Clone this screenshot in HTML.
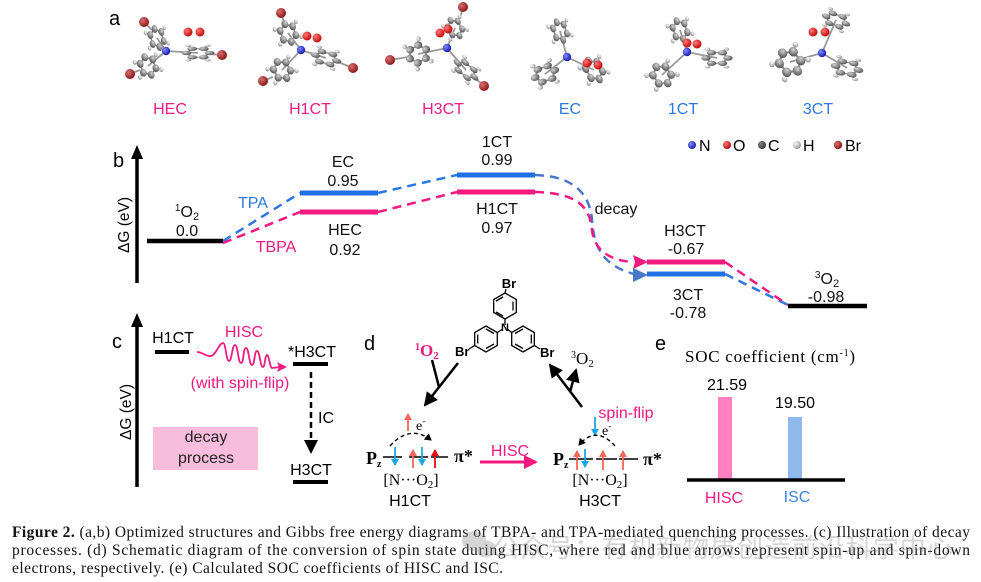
<!DOCTYPE html>
<html><head><meta charset="utf-8"><style>
html,body{margin:0;padding:0;background:#fff;}
svg{display:block;}
.s{font-family:"Liberation Sans",Arial,sans-serif;}
.r{font-family:"Liberation Serif","Times New Roman",serif;}
</style></head><body>
<svg width="981" height="582" viewBox="0 0 981 582" xmlns="http://www.w3.org/2000/svg">
<defs>
<radialGradient id="gC" cx="0.35" cy="0.35" r="0.7"><stop offset="0" stop-color="#d4d4d4"/><stop offset="1" stop-color="#505050"/></radialGradient>
<radialGradient id="gH" cx="0.35" cy="0.35" r="0.7"><stop offset="0" stop-color="#ffffff"/><stop offset="1" stop-color="#8e8e8e"/></radialGradient>
<radialGradient id="gN" cx="0.35" cy="0.35" r="0.7"><stop offset="0" stop-color="#7f8cff"/><stop offset="1" stop-color="#1515a5"/></radialGradient>
<radialGradient id="gO" cx="0.35" cy="0.35" r="0.7"><stop offset="0" stop-color="#ff7a7a"/><stop offset="1" stop-color="#c00000"/></radialGradient>
<radialGradient id="gBr" cx="0.35" cy="0.35" r="0.7"><stop offset="0" stop-color="#d87070"/><stop offset="1" stop-color="#861414"/></radialGradient>
<radialGradient id="gDk" cx="0.35" cy="0.35" r="0.7"><stop offset="0" stop-color="#888"/><stop offset="1" stop-color="#333"/></radialGradient>
<g id="rg0">
 <g stroke="#a8a8a8" stroke-width="1.5">
  <line x1="5" y1="8.66" x2="8.5" y2="14.7"/><line x1="-5" y1="8.66" x2="-8.5" y2="14.7"/>
  <line x1="5" y1="-8.66" x2="8.5" y2="-14.7"/><line x1="-5" y1="-8.66" x2="-8.5" y2="-14.7"/>
 </g>
 <polygon points="10,0 5,8.66 -5,8.66 -10,0 -5,-8.66 5,-8.66" fill="none" stroke="#8a8a8a" stroke-width="2"/>
 <circle cx="8.5" cy="14.7" r="2.6" fill="url(#gH)"/><circle cx="-8.5" cy="14.7" r="2.6" fill="url(#gH)"/>
 <circle cx="8.5" cy="-14.7" r="2.6" fill="url(#gH)"/><circle cx="-8.5" cy="-14.7" r="2.6" fill="url(#gH)"/>
 <circle cx="10" cy="0" r="4.3" fill="url(#gC)"/><circle cx="5" cy="8.66" r="4.3" fill="url(#gC)"/>
 <circle cx="-5" cy="8.66" r="4.3" fill="url(#gC)"/><circle cx="-10" cy="0" r="4.3" fill="url(#gC)"/>
 <circle cx="-5" cy="-8.66" r="4.3" fill="url(#gC)"/><circle cx="5" cy="-8.66" r="4.3" fill="url(#gC)"/>
</g>
<g id="rg"><use href="#rg0" transform="scale(1.1)"/></g>
<marker id="mBk" markerUnits="userSpaceOnUse" markerWidth="14" markerHeight="14" refX="12" refY="7" orient="auto"><path d="M0,0 L14,7 L0,14 z" fill="#000"/></marker>
<marker id="mPk" markerUnits="userSpaceOnUse" markerWidth="14" markerHeight="14" refX="12" refY="7" orient="auto"><path d="M0,0 L14,7 L0,14 z" fill="#f0197f"/></marker>
<marker id="mRs" markerUnits="userSpaceOnUse" markerWidth="7" markerHeight="8" refX="6" refY="4" orient="auto"><path d="M0,0 L7,4 L0,8 z" fill="#f4655a"/></marker>
<marker id="mDr" markerUnits="userSpaceOnUse" markerWidth="7" markerHeight="8" refX="6" refY="4" orient="auto"><path d="M0,0 L7,4 L0,8 z" fill="#e01010"/></marker>
<marker id="mBs" markerUnits="userSpaceOnUse" markerWidth="7" markerHeight="8" refX="6" refY="4" orient="auto"><path d="M0,0 L7,4 L0,8 z" fill="#1ea6e8"/></marker>
<marker id="mKs" markerUnits="userSpaceOnUse" markerWidth="7" markerHeight="8" refX="6" refY="4" orient="auto"><path d="M0,0 L7,4 L0,8 z" fill="#000"/></marker>
</defs>
<rect width="981" height="582" fill="#fff"/>

<!-- ===== Panel a ===== -->
<text x="109" y="25" class="s" font-size="20">a</text>
<g stroke="#999" stroke-width="1.8">
 <line x1="166" y1="51" x2="157" y2="38"/><line x1="166" y1="51" x2="148" y2="66"/><line x1="166" y1="51" x2="198" y2="53"/>
 <line x1="144" y1="22" x2="152" y2="30"/><line x1="130" y1="74" x2="140" y2="70"/><line x1="222" y1="55" x2="209" y2="54"/>
 <line x1="301" y1="50" x2="288" y2="33"/><line x1="301" y1="50" x2="282" y2="70"/><line x1="301" y1="50" x2="326" y2="58"/>
 <line x1="281" y1="13" x2="284" y2="22"/><line x1="263" y1="81" x2="273" y2="77"/><line x1="353" y1="68" x2="338" y2="62"/>
 <line x1="447" y1="48" x2="418" y2="54"/><line x1="447" y1="48" x2="455" y2="28"/><line x1="447" y1="48" x2="466" y2="70"/>
 <line x1="463" y1="7" x2="460" y2="18"/><line x1="390" y1="60" x2="408" y2="57"/><line x1="484" y1="86" x2="475" y2="78"/>
 <line x1="567" y1="57" x2="560" y2="31"/><line x1="567" y1="57" x2="545" y2="74"/><line x1="567" y1="57" x2="594" y2="70"/>
 <line x1="687" y1="52" x2="680" y2="30"/><line x1="687" y1="52" x2="662" y2="75"/><line x1="687" y1="52" x2="717" y2="58"/>
 <line x1="822" y1="53" x2="836" y2="20"/><line x1="822" y1="53" x2="790" y2="62"/><line x1="822" y1="53" x2="847" y2="68"/>
</g>
<use href="#rg" transform="translate(157,38) rotate(75) scale(0.85,0.6)"/>
<use href="#rg" transform="translate(148,66) rotate(70) scale(0.85,0.7)"/>
<use href="#rg" transform="translate(198,53) rotate(0) scale(1.05,0.45)"/>
<use href="#rg" transform="translate(288,33) rotate(70) scale(0.85,0.7)"/>
<use href="#rg" transform="translate(282,70) rotate(60) scale(0.85,0.75)"/>
<use href="#rg" transform="translate(326,58) rotate(15) scale(1,0.55)"/>
<use href="#rg" transform="translate(418,54) rotate(-30) scale(0.85,0.8)"/>
<use href="#rg" transform="translate(455,28) rotate(60) scale(0.8,0.6)"/>
<use href="#rg" transform="translate(466,70) rotate(40) scale(1,0.55)"/>
<use href="#rg" transform="translate(560,31) rotate(70) scale(0.85,0.6)"/>
<use href="#rg" transform="translate(545,74) rotate(-20) scale(0.95,0.7)"/>
<use href="#rg" transform="translate(594,70) rotate(60) scale(0.95,0.7)"/>
<use href="#rg" transform="translate(680,30) rotate(70) scale(0.85,0.65)"/>
<use href="#rg" transform="translate(662,75) rotate(55) scale(0.9,0.8)"/>
<use href="#rg" transform="translate(717,58) rotate(0) scale(1,0.55)"/>
<use href="#rg" transform="translate(836,20) rotate(20) scale(0.95,0.55)"/>
<use href="#rg" transform="translate(790,62) rotate(50) scale(1.05,0.95)"/>
<use href="#rg" transform="translate(847,68) rotate(10) scale(1.05,0.6)"/>
<circle cx="166" cy="51" r="4.2" fill="url(#gN)"/><circle cx="301" cy="50" r="4.2" fill="url(#gN)"/>
<circle cx="447" cy="48" r="4.2" fill="url(#gN)"/><circle cx="567" cy="57" r="4.2" fill="url(#gN)"/>
<circle cx="687" cy="52" r="4.2" fill="url(#gN)"/><circle cx="822" cy="53" r="4.2" fill="url(#gN)"/>
<circle cx="188" cy="32" r="4.5" fill="url(#gO)"/><circle cx="200" cy="32" r="4.5" fill="url(#gO)"/>
<circle cx="307" cy="36" r="4.5" fill="url(#gO)"/><circle cx="317" cy="38" r="4.5" fill="url(#gO)"/>
<circle cx="440" cy="33" r="4.5" fill="url(#gO)"/><circle cx="448" cy="29" r="4.5" fill="url(#gO)"/>
<circle cx="587" cy="63" r="4.5" fill="url(#gO)"/><circle cx="598" cy="65" r="4.5" fill="url(#gO)"/>
<circle cx="687" cy="43" r="4.5" fill="url(#gO)"/><circle cx="697" cy="44" r="4.5" fill="url(#gO)"/>
<circle cx="813" cy="32" r="4.5" fill="url(#gO)"/><circle cx="825" cy="32" r="4.5" fill="url(#gO)"/>
<circle cx="144" cy="22" r="5" fill="url(#gBr)"/><circle cx="130" cy="74" r="5" fill="url(#gBr)"/><circle cx="222" cy="55" r="5" fill="url(#gBr)"/>
<circle cx="281" cy="13" r="5" fill="url(#gBr)"/><circle cx="263" cy="81" r="5" fill="url(#gBr)"/><circle cx="353" cy="68" r="5" fill="url(#gBr)"/>
<circle cx="463" cy="7" r="5" fill="url(#gBr)"/><circle cx="390" cy="60" r="5" fill="url(#gBr)"/><circle cx="484" cy="86" r="5" fill="url(#gBr)"/>

<g class="s" font-size="16" text-anchor="middle">
 <text x="170" y="114" fill="#ec1c84">HEC</text>
 <text x="310" y="114" fill="#ec1c84">H1CT</text>
 <text x="443" y="114" fill="#ec1c84">H3CT</text>
 <text x="570" y="114" fill="#2a78e2">EC</text>
 <text x="683" y="114" fill="#2a78e2">1CT</text>
 <text x="818" y="114" fill="#2a78e2">3CT</text>
</g>

<!-- ===== Panel b ===== -->
<text x="113" y="167" class="s" font-size="20">b</text>
<line x1="137" y1="283" x2="137" y2="156" stroke="#000" stroke-width="3.5"/>
<polygon points="137,145 131,159 143,159" fill="#000"/>
<text transform="translate(129,225) rotate(-90)" class="s" font-size="15.5" text-anchor="middle">ΔG (eV)</text>

<circle cx="692" cy="145" r="4" fill="url(#gN)"/><text x="699" y="151" class="s" font-size="16">N</text>
<circle cx="727" cy="145" r="4" fill="url(#gO)"/><text x="733" y="151" class="s" font-size="16">O</text>
<circle cx="762" cy="145" r="4" fill="url(#gDk)"/><text x="768" y="151" class="s" font-size="16">C</text>
<circle cx="797" cy="145" r="4" fill="url(#gH)"/><text x="803" y="151" class="s" font-size="16">H</text>
<circle cx="838" cy="145" r="4.2" fill="url(#gBr)"/><text x="845" y="151" class="s" font-size="16">Br</text>

<g fill="none" stroke-width="2.5" stroke-dasharray="9 6">
 <path d="M223,241 L300,193" stroke="#2a78e2"/>
 <path d="M223,243 L300,212" stroke="#f0197f"/>
 <path d="M378,193 L457,175" stroke="#2a78e2"/>
 <path d="M378,212 L457,192" stroke="#f0197f"/>
 <path d="M535,175 C575,176 590,195 592,220 C594,250 605,266 634,274" stroke="#4a78c8"/>
 <path d="M535,192 C575,193 590,205 592,230 C594,250 610,261 634,262" stroke="#f0197f"/>
 <path d="M725,274 L788,305" stroke="#2a78e2"/>
 <path d="M725,262 L788,305" stroke="#f0197f"/>
</g>
<polygon points="648,262 633,255 635,262 633,269" fill="#f0197f"/>
<polygon points="648,275 633,268 633,282" fill="#4a78c8"/>

<line x1="147" y1="241" x2="223" y2="241" stroke="#000" stroke-width="4.5"/>
<line x1="300" y1="193" x2="378" y2="193" stroke="#1f6fe5" stroke-width="5"/>
<line x1="300" y1="212" x2="378" y2="212" stroke="#f2197f" stroke-width="5"/>
<line x1="457" y1="175" x2="535" y2="175" stroke="#1f6fe5" stroke-width="5"/>
<line x1="457" y1="192" x2="535" y2="192" stroke="#f2197f" stroke-width="5"/>
<line x1="647" y1="262" x2="725" y2="262" stroke="#f2197f" stroke-width="5"/>
<line x1="647" y1="274" x2="725" y2="274" stroke="#1f6fe5" stroke-width="5"/>
<line x1="788" y1="306" x2="867" y2="306" stroke="#000" stroke-width="4.5"/>

<g class="s" font-size="16" text-anchor="middle" fill="#111">
 <text x="187" y="217"><tspan font-size="10" dy="-6">1</tspan><tspan dy="6">O</tspan><tspan font-size="11" dy="3">2</tspan></text>
 <text x="187" y="236">0.0</text>
 <text x="343" y="167">EC</text>
 <text x="343" y="186">0.95</text>
 <text x="345" y="235">HEC</text>
 <text x="345" y="255">0.92</text>
 <text x="497" y="147">1CT</text>
 <text x="497" y="165">0.99</text>
 <text x="497" y="214">H1CT</text>
 <text x="497" y="233">0.97</text>
 <text x="616" y="214">decay</text>
 <text x="685" y="236">H3CT</text>
 <text x="686" y="254">-0.67</text>
 <text x="688" y="300">3CT</text>
 <text x="688" y="318">-0.78</text>
 <text x="827" y="284"><tspan font-size="10" dy="-6">3</tspan><tspan dy="6">O</tspan><tspan font-size="11" dy="3">2</tspan></text>
 <text x="826" y="302">-0.98</text>
 <text x="253" y="208" fill="#2a78e2">TPA</text>
 <text x="276" y="252" fill="#f0197f">TBPA</text>
</g>

<!-- ===== Panel c ===== -->
<text x="112" y="348" class="s" font-size="20">c</text>
<line x1="137" y1="487" x2="137" y2="324" stroke="#000" stroke-width="3.5"/>
<polygon points="137,313 131,327 143,327" fill="#000"/>
<text transform="translate(131,412) rotate(-90)" class="s" font-size="15.5" text-anchor="middle">ΔG (eV)</text>
<text x="173" y="343" class="s" font-size="16" text-anchor="middle">H1CT</text>
<line x1="155" y1="352" x2="189" y2="352" stroke="#000" stroke-width="4"/>
<text x="244" y="337" class="s" font-size="16" text-anchor="middle" fill="#f0197f">HISC</text>
<path d="M197,352 C203,352 206,357 211,356 C216,355 219,343 223,343 C226,343 226,361 229,361 C232,361 232,345 235,345 C238,345 238,363 241,363 C244,363 243,348 246,348 C249,348 249,365 252,365 C255,365 254,351 257,351 C260,351 260,367 263,367 C265,367 265,355 267,355 C269,355 270,368 272,368 L280,367" fill="none" stroke="#f0197f" stroke-width="1.8"/>
<polygon points="287,367 277,362 279,367 277,372" fill="#f0197f"/>
<text x="240" y="388" class="s" font-size="16" text-anchor="middle" fill="#f0197f">(with spin-flip)</text>
<text x="312" y="357" class="s" font-size="16" text-anchor="middle">*H3CT</text>
<line x1="293" y1="364" x2="328" y2="364" stroke="#000" stroke-width="4"/>
<line x1="311" y1="372" x2="311" y2="442" stroke="#000" stroke-width="2.5" stroke-dasharray="6 4"/>
<polygon points="304,440 318,440 311,454" fill="#000"/>
<text x="318" y="423" class="s" font-size="16">IC</text>
<text x="311" y="475" class="s" font-size="16" text-anchor="middle">H3CT</text>
<line x1="293" y1="482" x2="328" y2="482" stroke="#000" stroke-width="4"/>
<rect x="153" y="427" width="105" height="43" fill="#f8bcdc"/>
<text x="206" y="442" class="s" font-size="16" text-anchor="middle" fill="#222">decay</text>
<text x="206" y="463" class="s" font-size="16" text-anchor="middle" fill="#222">process</text>

<!-- ===== Panel d ===== -->
<text x="364" y="350" class="s" font-size="20">d</text>
<g fill="none" stroke="#000" stroke-width="1.3">
 <polygon points="505,293 516.3,299.5 516.3,312.5 505,319 493.7,312.5 493.7,299.5"/>
 <line x1="513" y1="301.5" x2="513" y2="310.5"/><line x1="503" y1="316" x2="496" y2="312"/><line x1="496" y1="301" x2="503" y2="297"/>
 <polygon points="474.7,345.5 474.7,332.5 486,326 497.3,332.5 497.3,345.5 486,352"/>
 <line x1="477.7" y1="334.5" x2="477.7" y2="343.5"/><line x1="486" y1="329" x2="494" y2="333.5"/><line x1="494" y1="344" x2="486" y2="348.5"/>
 <polygon points="534.3,345.5 523,352 511.7,345.5 511.7,332.5 523,326 534.3,332.5"/>
 <line x1="531.3" y1="334.5" x2="531.3" y2="343.5"/><line x1="523" y1="329" x2="515" y2="333.5"/><line x1="515" y1="344" x2="523" y2="348.5"/>
 <line x1="505" y1="319" x2="505" y2="325"/>
 <line x1="497.3" y1="332.5" x2="502" y2="329.5"/>
 <line x1="511.7" y1="332.5" x2="508" y2="329.5"/>
 <line x1="505" y1="293" x2="506" y2="289"/>
 <line x1="474.7" y1="345.5" x2="469" y2="349"/>
 <line x1="534.3" y1="345.5" x2="540" y2="349"/>
</g>
<text x="505" y="331" class="s" font-size="11" font-weight="bold" text-anchor="middle">N</text>
<g class="s" font-size="13" font-weight="bold">
 <text x="509" y="288" text-anchor="middle">Br</text>
 <text x="455" y="356">Br</text>
 <text x="540" y="357">Br</text>
</g>
<line x1="458" y1="363" x2="425" y2="405" stroke="#000" stroke-width="2.5" marker-end="url(#mBk)"/>
<line x1="432" y1="360" x2="439" y2="387" stroke="#000" stroke-width="2.5"/>
<line x1="582" y1="407" x2="550" y2="365" stroke="#000" stroke-width="2.5" marker-end="url(#mBk)"/>
<line x1="570" y1="392" x2="576" y2="370" stroke="#000" stroke-width="2.5" marker-end="url(#mBk)"/>
<text x="415" y="356" class="r" font-size="17" font-weight="bold" fill="#f0197f"><tspan font-size="10" dy="-6">1</tspan><tspan dy="6">O</tspan><tspan font-size="11" dy="3">2</tspan></text>
<text x="571" y="364" class="r" font-size="17"><tspan font-size="10" dy="-6">3</tspan><tspan dy="6">O</tspan><tspan font-size="11" dy="3">2</tspan></text>

<text x="366" y="464" class="r" font-size="18" font-weight="bold">P<tspan font-size="10" dy="3">z</tspan></text>
<g stroke="#000" stroke-width="1.5">
 <line x1="383" y1="457" x2="402" y2="457"/><line x1="409" y1="457" x2="428" y2="457"/><line x1="431" y1="457" x2="448" y2="457"/>
</g>
<line x1="395" y1="447" x2="395" y2="465" stroke="#1ea6e8" stroke-width="1.8" marker-end="url(#mBs)"/>
<line x1="413" y1="468" x2="413" y2="450" stroke="#f4655a" stroke-width="1.8" marker-end="url(#mRs)"/>
<line x1="422" y1="447" x2="422" y2="465" stroke="#1ea6e8" stroke-width="1.8" marker-end="url(#mBs)"/>
<line x1="435" y1="468" x2="435" y2="450" stroke="#e01010" stroke-width="1.8" marker-end="url(#mDr)"/>
<line x1="408" y1="431" x2="408" y2="414" stroke="#f4655a" stroke-width="1.8" marker-end="url(#mRs)"/>
<text x="416" y="430" class="r" font-size="14">e<tspan font-size="9" dy="-6">-</tspan></text>
<path d="M390,446 Q410,424 431,440" fill="none" stroke="#000" stroke-width="1.4" stroke-dasharray="4 3" marker-end="url(#mKs)"/>
<text x="454" y="462" class="r" font-size="18" font-weight="bold">π*</text>
<text x="411" y="485" class="r" font-size="16" text-anchor="middle">[N···O<tspan font-size="11" dy="3">2</tspan><tspan dy="-3">]</tspan></text>
<text x="410" y="506" class="s" font-size="16" text-anchor="middle">H1CT</text>

<text x="510" y="456" class="s" font-size="16" text-anchor="middle" fill="#f0197f">HISC</text>
<line x1="480" y1="462" x2="536" y2="462" stroke="#f0197f" stroke-width="3" marker-end="url(#mPk)"/>

<text x="553" y="465" class="r" font-size="18" font-weight="bold">P<tspan font-size="10" dy="3">z</tspan></text>
<g stroke="#000" stroke-width="1.5">
 <line x1="569" y1="459" x2="593" y2="459"/><line x1="596" y1="459" x2="617" y2="459"/><line x1="619" y1="459" x2="638" y2="459"/>
</g>
<line x1="577" y1="470" x2="577" y2="451" stroke="#f4655a" stroke-width="1.8" marker-end="url(#mRs)"/>
<line x1="585" y1="449" x2="585" y2="467" stroke="#1ea6e8" stroke-width="1.8" marker-end="url(#mBs)"/>
<line x1="603" y1="470" x2="603" y2="451" stroke="#f4655a" stroke-width="1.8" marker-end="url(#mRs)"/>
<line x1="623" y1="470" x2="623" y2="451" stroke="#f4655a" stroke-width="1.8" marker-end="url(#mRs)"/>
<line x1="595" y1="417" x2="595" y2="435" stroke="#1ea6e8" stroke-width="1.8" marker-end="url(#mBs)"/>
<text x="602" y="435" class="r" font-size="14">e<tspan font-size="9" dy="-6">-</tspan></text>
<text x="626" y="418" class="s" font-size="16" text-anchor="middle" fill="#f0197f">spin-flip</text>
<path d="M615,446 Q596,425 579,445" fill="none" stroke="#000" stroke-width="1.4" stroke-dasharray="4 3" marker-end="url(#mKs)"/>
<text x="643" y="465" class="r" font-size="18" font-weight="bold">π*</text>
<text x="600" y="485" class="r" font-size="16" text-anchor="middle">[N···O<tspan font-size="11" dy="3">2</tspan><tspan dy="-3">]</tspan></text>
<text x="600" y="506" class="s" font-size="16" text-anchor="middle">H3CT</text>

<!-- ===== Panel e ===== -->
<text x="655" y="350" class="s" font-size="20">e</text>
<text x="685" y="362" class="r" font-size="17" textLength="170" lengthAdjust="spacing">SOC coefficient (cm<tspan font-size="10" dy="-6">-1</tspan><tspan dy="6">)</tspan></text>
<rect x="718" y="397" width="14" height="82" fill="#ff80c0"/>
<rect x="788" y="417" width="14" height="62" fill="#8fb8ec"/>
<line x1="687" y1="480" x2="845" y2="480" stroke="#000" stroke-width="3.5"/>
<text x="727" y="390" class="s" font-size="16" text-anchor="middle">21.59</text>
<text x="795" y="408" class="s" font-size="16" text-anchor="middle">19.50</text>
<text x="724" y="503" class="s" font-size="16" text-anchor="middle" fill="#f0197f">HISC</text>
<text x="797" y="502" class="s" font-size="16" text-anchor="middle" fill="#3a86e0">ISC</text>

<!-- ===== Caption ===== -->
<g class="r" font-size="15.5" fill="#111">
 <text x="12" y="537" textLength="958" lengthAdjust="spacing"><tspan font-weight="bold">Figure 2.</tspan> (a,b) Optimized structures and Gibbs free energy diagrams of TBPA- and TPA-mediated quenching processes. (c) Illustration of decay</text>
 <text x="12" y="555" textLength="958" lengthAdjust="spacing">processes. (d) Schematic diagram of the conversion of spin state during HISC, where red and blue arrows represent spin-up and spin-down</text>
 <text x="12" y="573" textLength="491" lengthAdjust="spacing">electrons, respectively. (e) Calculated SOC coefficients of HISC and ISC.</text>
</g>
<g opacity="0.35" fill="#8a8a8a">
 <ellipse cx="474" cy="541" rx="12" ry="10"/>
 <ellipse cx="486" cy="549" rx="10" ry="8.5"/>
</g>
<text x="493" y="557" font-family="'Noto Sans CJK SC','WenQuanYi Zen Hei',sans-serif" font-size="26" fill="#8a8a8a" opacity="0.35" textLength="460" lengthAdjust="spacing">公众号：有机新物质创造前沿科学中心</text>
</svg>
</body></html>
